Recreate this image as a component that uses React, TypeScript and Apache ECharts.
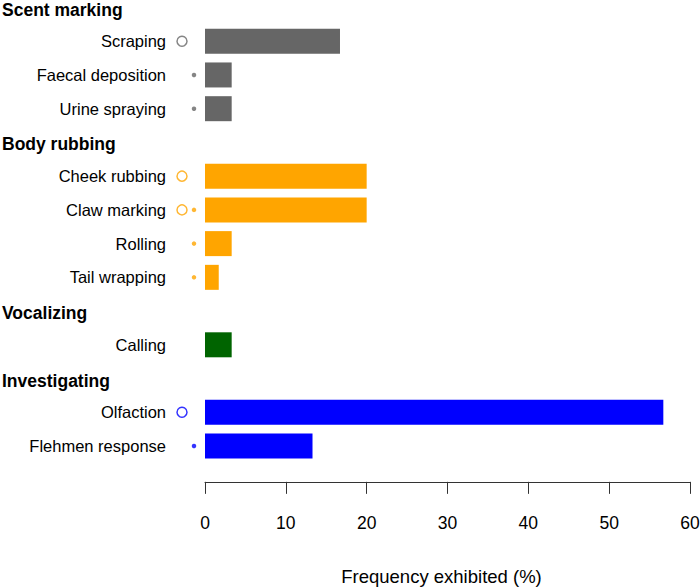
import React, { useEffect, useRef } from "react";
import * as echarts from "echarts";

const groupNames = ["Scent marking", "Body rubbing", "Vocalizing", "Investigating"];
const groupColors = ["#666666", "#FFA500", "#006400", "#0000FF"];
const behaviours = [
  ["Scraping", "Faecal deposition", "Urine spraying"],
  ["Cheek rubbing", "Claw marking", "Rolling", "Tail wrapping"],
  ["Calling"],
  ["Olfaction", "Flehmen response"],
];
const frequency = [
  [16.7, 3.3, 3.3],
  [20, 20, 3.3, 1.7],
  [3.3],
  [56.7, 13.3],
];
const circleMarked = ["Scraping", "Cheek rubbing", "Claw marking", "Olfaction"];
const dotMarked = [
  "Faecal deposition",
  "Urine spraying",
  "Claw marking",
  "Rolling",
  "Tail wrapping",
  "Flehmen response",
];
const xTicks = { min: 0, max: 60, interval: 10 };
const xTitle = "Frequency exhibited (%)";

type Row = { name: string; header: boolean; value?: number; color: string };

const rows: Row[] = [];
groupNames.forEach((g, gi) => {
  rows.push({ name: g, header: true, color: groupColors[gi] });
  behaviours[gi].forEach((b, bi) => {
    rows.push({ name: b, header: false, value: frequency[gi][bi], color: groupColors[gi] });
  });
});
const categories = rows.map((r) => r.name);
const headerSet = new Set(groupNames);

const FONT = "'Liberation Sans', Arial, Helvetica, sans-serif";
const SHIFT = 20; // chart canvas is shifted up by this many px
const ROW = 33.73;
const GRID_TOP = SHIFT + 7.5 - ROW / 2;
const GRID_H = ROW * rows.length;

export default function App() {
  const ref = useRef<HTMLDivElement>(null);
  useEffect(() => {
    if (!ref.current) return;
    const chart = echarts.init(ref.current, null, { renderer: "svg" });
    chart.setOption({
      animation: false,
      backgroundColor: "#ffffff",
      textStyle: { fontFamily: FONT },
      grid: [
        { left: 205, width: 485, top: GRID_TOP, height: GRID_H, containLabel: false, outerBoundsMode: "none" },
        { left: 176, width: 24, top: GRID_TOP, height: GRID_H, containLabel: false, outerBoundsMode: "none" },
      ],
      xAxis: [
        {
          type: "value",
          gridIndex: 0,
          min: xTicks.min,
          max: xTicks.max,
          interval: xTicks.interval,
          offset: 19,
          axisLine: { show: true, lineStyle: { color: "#333333", width: 1 } },
          axisTick: { show: true, length: 12, lineStyle: { color: "#333333" } },
          axisLabel: { margin: 32, fontSize: 17.5, color: "#000000", fontFamily: FONT },
          splitLine: { show: false },
          name: xTitle,
          nameLocation: "middle",
          nameGap: 85,
          nameTextStyle: { fontSize: 18.5, color: "#000000", fontFamily: FONT, padding: [0, 12, 0, 0] },
        },
        {
          type: "category",
          gridIndex: 1,
          data: ["circle", "dot"],
          show: false,
        },
      ],
      yAxis: [
        {
          type: "category",
          gridIndex: 0,
          data: categories,
          inverse: true,
          axisLine: { show: false },
          axisTick: { show: false },
          splitLine: { show: false },
          axisLabel: {
            margin: 39,
            interval: 0,
            color: "#000000",
            fontFamily: FONT,
            formatter: (v: string) => (headerSet.has(v) ? `{h|${v}}` : `{b|${v}}`),
            rich: {
              h: {
                fontWeight: "bold",
                fontSize: 17.5,
                width: 164,
                align: "left",
                color: "#000000",
                fontFamily: FONT,
                padding: [4, 0, 0, 0],
              },
              b: { fontSize: 16.5, color: "#000000", fontFamily: FONT },
            },
          },
        },
        {
          type: "category",
          gridIndex: 1,
          data: categories,
          inverse: true,
          show: false,
        },
      ],
      series: [
        {
          type: "bar",
          xAxisIndex: 0,
          yAxisIndex: 0,
          barWidth: 25,
          data: rows.map((r) => (r.header ? "-" : { value: r.value, itemStyle: { color: r.color } })),
        },
        {
          type: "scatter",
          xAxisIndex: 1,
          yAxisIndex: 1,
          symbol: "circle",
          symbolSize: 10,
          data: rows
            .filter((r) => circleMarked.includes(r.name))
            .map((r) => ({
              value: ["circle", r.name],
              itemStyle: { color: "rgba(0,0,0,0)", borderColor: r.color, borderWidth: 1.5 },
            })),
        },
        {
          type: "scatter",
          xAxisIndex: 1,
          yAxisIndex: 1,
          symbol: "circle",
          symbolSize: 4.5,
          data: rows
            .filter((r) => dotMarked.includes(r.name))
            .map((r) => ({ value: ["dot", r.name], itemStyle: { color: r.color } })),
        },
      ],
    });
    return () => chart.dispose();
  }, []);
  return (
    <div
      ref={ref}
      style={{ position: "fixed", left: 0, top: -SHIFT, width: 700, height: 587 + SHIFT }}
    />
  );
}
